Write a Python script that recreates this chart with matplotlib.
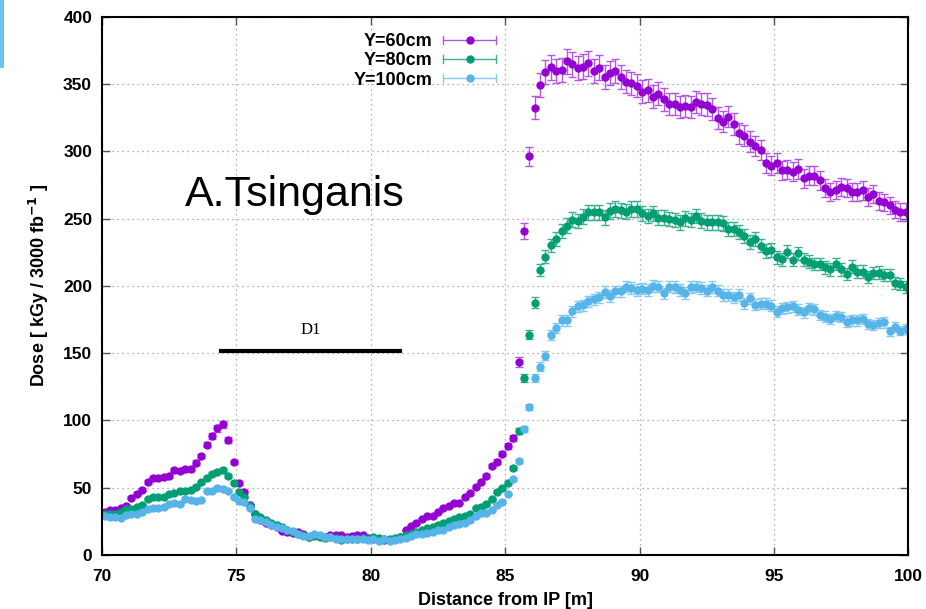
import numpy as np
import matplotlib
matplotlib.use("Agg")
import matplotlib.pyplot as plt
from matplotlib.legend_handler import HandlerBase
from matplotlib.lines import Line2D
from matplotlib.patches import Rectangle

plt.rcParams['font.family'] = ['Liberation Sans', 'DejaVu Sans']

# dose per position, one point every 0.2 m starting at 70.1 m
dose_60 = [32, 33.5, 33, 34.5, 36, 42.5, 45.5, 48.5, 54, 57,
           57, 58, 58.5, 63, 62.5, 63.5, 64, 68.5, 73.5, 82,
           88.5, 94, 97, 85.5, 69, 53.5, 46.5, 37, 30, 25.7,
           23.8, 22.3, 20.8, 17.6, 16.6, 16.5, 16.6, 15.6, 13.6, 14.6,
           14.1, 13.6, 14.4, 14.4, 14.9, 13.6, 14.1, 14.9, 14.4, 12.4,
           11.6, 11.6, 11.1, 11.1, 11.6, 13.1, 18.1, 21.5, 23.5, 26.5,
           28.5, 29, 32.2, 34.7, 36.4, 38.9, 38.4, 42.8, 45.8, 50.7,
           54.5, 58.7, 66.1, 69.3, 75, 80.9, 87, 143.6, 241, 296.3,
           332.7, 349.5, 359.4, 362.6, 359.9, 360.6, 367.1, 364.9, 361.9, 363.1,
           365.6, 360.1, 362.4, 355.2, 358.7, 359.9, 355.7, 352, 350.7, 349,
           344.6, 345.5, 340.8, 342.8, 338.9, 335.4, 335.4, 332.9, 333.9, 332.9,
           336.9, 335.4, 334.9, 331.4, 325.2, 322.3, 326, 320.3, 313.6, 311.6,
           307.4, 304.2, 301.2, 291.3, 289.4, 291.3, 285.9, 286.4, 284.9, 286.9,
           280.2, 281.9, 281.9, 278.5, 273, 270, 271.5, 273.5, 272.8, 270,
           269.6, 271, 266.1, 268.6, 263.1, 262.1, 259.9, 256.7, 255, 255]

dose_80 = [30.7, 30.4, 30.7, 31.9, 33.7, 34.4, 35.6, 36.9, 41.6, 42.8,
           42.8, 43.1, 45.5, 46, 47.5, 47.5, 48.5, 50.5, 54, 57.2,
           60.4, 61.6, 62.9, 58.7, 53.5, 47, 43, 36, 30.7, 28.2,
           25.7, 23.3, 22.3, 20.8, 18.8, 17.3, 15.6, 14.9, 13.6, 14.1,
           13.1, 12.4, 13.1, 12.6, 11.1, 11.6, 12.1, 12.1, 12.6, 12.1,
           13.1, 12.6, 11.6, 12.1, 12.6, 13.6, 14.6, 15.6, 16.6, 18.1,
           19.6, 21, 22, 24, 25.5, 26.5, 28, 29, 30.4, 34.9,
           35.9, 37.9, 41.3, 46.8, 49.5, 53.7, 64.6, 92, 131.4, 163.8,
           187.6, 212, 221.8, 230.2, 234.9, 240.8, 244.8, 249.3, 248.3, 251.6,
           254.7, 254.7, 254.7, 251, 255.7, 257.2, 256.4, 255.2, 257.2, 257.2,
           254, 252, 254, 250.7, 250.7, 249.8, 249, 247.3, 250.2, 249,
           252, 248.5, 247.3, 247.3, 247.3, 246.5, 242.1, 242.1, 240.3, 237.4,
           232.4, 234.7, 230, 226, 226.7, 221.3, 220, 225.5, 219.3, 224.3,
           219.3, 218.1, 216.3, 216.3, 213.9, 212.4, 216.3, 212.4, 208.9, 214.4,
           210.6, 210.6, 206.9, 209.4, 209.9, 208.2, 208.2, 202.5, 201.5, 199]

dose_100 = [28.7, 28.2, 28.2, 27.7, 29.5, 30, 30.4, 31.9, 33.9, 34.9,
            35.1, 35.6, 37.6, 38.6, 38.1, 41.8, 40.6, 40.1, 41.1, 47.5,
            47.5, 50, 49.3, 47.5, 43.1, 40, 39.5, 35, 27, 25.7,
            24.5, 22, 20.8, 19.6, 18.3, 17.5, 15.6, 14.1, 14.1, 15.6,
            14.9, 13.6, 13.1, 11.6, 12.1, 12.1, 11.6, 11.6, 11.6, 11.1,
            11.6, 10.6, 11.6, 9.9, 11.1, 11.6, 12.4, 14.1, 15.1, 15.6,
            16.1, 17.3, 18.6, 18.6, 20.5, 22, 23, 24, 26, 28.5,
            30.9, 31.4, 33.4, 37.1, 39.6, 45.3, 56.2, 70, 93.4, 109.8,
            131.4, 140, 148.2, 163.4, 168.4, 174.3, 174.3, 181.2, 184.7, 185.5,
            188.5, 190, 191.5, 195.5, 192.5, 196, 196, 199.5, 198.5, 197,
            198, 197, 200, 199.5, 194.5, 199.5, 199, 197, 194.6, 199,
            199.5, 198.3, 196.5, 199, 196.5, 193.3, 193.3, 191.6, 193.3, 187.1,
            190.8, 185.9, 186.6, 186.6, 185.1, 180.9, 183.4, 184.2, 184.7, 182.2,
            180.4, 183.4, 182.7, 178.5, 177.2, 175.2, 177.7, 176.7, 173.5, 174.3,
            174.3, 175.2, 171.8, 171, 172.3, 172.8, 166.1, 169.8, 166.8, 167.8]

labels = ["Y=60cm", "Y=80cm", "Y=100cm"]
rel_err = [0.025, 0.022, 0.022]  # error bars, roughly a fixed fraction of the dose
dot_colors = ["#9400d3", "#009e73", "#56b4e9"]
bar_colors = ["#b455e6", "#3fb08f", "#86c9ef"]

# D1 magnet extent
d1_start, d1_end, d1_level = 74.45, 81.1, 151.5

x = np.round(70.1 + 0.2 * np.arange(len(dose_60)), 1)


# gnuplot style key: horizontal bar with caps and a dot in the middle
class BarKey(HandlerBase):
    def create_artists(self, legend, orig, xd, yd, w, h, fontsize, trans):
        y = h / 2 - yd
        c = orig.get_color()
        mc = orig.get_markerfacecolor()
        out = [Line2D([-xd, w - xd], [y, y], color=c, lw=1)]
        for xe in (-xd, w - xd):
            out.append(Line2D([xe, xe], [y - 3, y + 3], color=c, lw=1))
        out.append(Line2D([w / 2 - xd], [y], marker='o', ms=5, color=mc, lw=0))
        for a in out:
            a.set_transform(trans)
        return out


fig = plt.figure(figsize=(9.26, 6.09), dpi=100)
ax = fig.add_axes([0.110, 0.089, 0.871, 0.883])

handles = []
for ys, lab, dc, bc, r in zip([dose_60, dose_80, dose_100], labels, dot_colors, bar_colors, rel_err):
    ys = np.array(ys)
    ax.errorbar(x, ys, yerr=ys * r, fmt='o', ms=5, color=dc, ecolor=bc,
                elinewidth=1, capsize=3, capthick=1)
    handles.append(Line2D([], [], color=bc, markerfacecolor=dc, label=lab))

ax.plot([d1_start, d1_end], [d1_level, d1_level], color='black', lw=3)
ax.text((d1_start + d1_end) / 2, d1_level + 10, "D1", family='Liberation Serif',
        fontsize=12, ha='center', va='bottom')
ax.text(73.1, 268, "A.Tsinganis", fontsize=31, ha='left', va='center')

ax.set_xlim(70, 100)
ax.set_ylim(0, 400)
ax.set_xticks(np.arange(70, 101, 5))
ax.set_yticks(np.arange(0, 401, 50))
ax.grid(True, linestyle=(0, (1, 3)), color='#999999', lw=0.9)
ax.tick_params(direction='in', length=6, width=1, top=True, right=True,
               labelsize=12.5, color='#555555')
ax.tick_params(axis='x', pad=10)
ax.tick_params(axis='y', pad=7)
for t in ax.get_xticklabels() + ax.get_yticklabels():
    t.set_fontweight('bold')
for s in ax.spines.values():
    s.set_linewidth(1.5)

ax.set_xlabel("Distance from IP [m]", fontsize=13, fontweight='bold', labelpad=6)
ax.set_ylabel(r"Dose [ kGy / 3000 fb$^{\mathbf{-1}}$ ]", fontsize=13,
              fontweight='bold', labelpad=9)

ax.legend(handles=handles, handler_map={Line2D: BarKey()}, loc='upper left',
          bbox_to_anchor=(0.292, 1.0), frameon=False, markerfirst=False,
          prop={'weight': 'bold', 'size': 13}, handlelength=2.9,
          labelspacing=0.12, handletextpad=0.6)

# sliver of a blue slide element at the top left corner
fig.add_artist(Rectangle((0, 1 - 68 / 609), 4 / 926, 68 / 609,
                         transform=fig.transFigure, color='#6cc4ee', lw=0))

fig.savefig("out.png", dpi=100)
